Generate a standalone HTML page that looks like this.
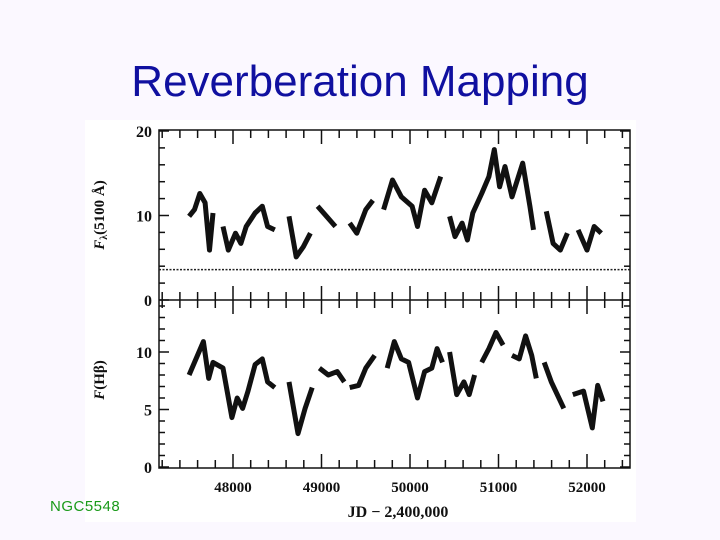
<!DOCTYPE html>
<html><head><meta charset="utf-8"><style>
html,body{margin:0;padding:0;}
body{width:720px;height:540px;background:#fbf8ff;position:relative;overflow:hidden;font-family:"Liberation Sans",sans-serif;}
#title{position:absolute;left:0;width:720px;top:57px;text-align:center;font-size:44px;color:#1010a0;}
#ngc{position:absolute;left:50px;top:498px;font-size:15px;color:#1a9a1a;letter-spacing:0.5px;}
svg{position:absolute;left:0;top:0;}
</style></head><body>
<div id="title">Reverberation Mapping</div>
<svg id="chart" width="720" height="540">
<rect x="85" y="120" width="551" height="402" fill="#ffffff"/>
</svg>
<div id="ngc">NGC5548</div>
<script>
const contJD=[47504,47565,47625,47685,47734,47774,null,47887,47947,48028,48089,48149,48250,48331,48391,48472,null,48633,48714,48794,48875,null,48956,49056,49157,null,49319,49399,49500,49581,null,49702,49802,49903,50024,50085,50165,50246,50347,null,50448,50508,50589,50649,50710,50810,50891,50952,51012,51073,51153,51274,51355,51395,null,51540,51617,51698,51778,null,51899,52000,52081,52161];
const contFlux=[9.9,10.7,12.6,11.5,5.9,10.3,null,8.7,5.9,7.9,6.7,8.7,10.3,11.1,8.7,8.3,null,9.9,5.1,6.3,7.9,null,11.1,9.9,8.7,null,9.1,7.9,10.7,11.8,null,10.7,14.2,12.2,11.1,8.7,13.0,11.5,14.6,null,9.9,7.5,9.1,7.1,10.3,12.6,14.6,17.8,13.4,15.8,12.2,16.2,11.1,8.3,null,10.5,6.7,5.9,7.9,null,8.3,5.9,8.7,7.9];
const hbJD=[47504,47565,47665,47725,47774,47887,47988,48048,48109,48169,48250,48331,48391,48472,null,48633,48734,48815,48895,null,48976,49077,49177,49258,null,49319,49419,49500,49601,null,49742,49823,49903,49984,50085,50165,50246,50306,50367,null,50448,50528,50609,50669,50730,null,50810,50891,50972,51052,null,51153,51234,51306,51375,51427,null,51516,51597,51738,null,51839,51960,52060,52121,52181];
const hbFlux=[8.0,9.1,10.9,7.7,9.1,8.6,4.3,6.0,5.1,6.6,8.9,9.4,7.4,6.9,null,7.4,2.9,5.1,6.9,null,8.6,8.0,8.3,7.4,null,6.9,7.1,8.6,9.7,null,8.6,10.9,9.4,9.1,6.0,8.3,8.6,10.3,9.1,null,10.0,6.3,7.4,6.3,8.0,null,9.1,10.3,11.7,10.6,null,9.7,9.4,11.4,9.7,7.7,null,9.1,7.4,5.1,null,6.3,6.6,3.4,7.1,5.7];
const xTicks=[48000,49000,50000,51000,52000];
const topYTicks=[0,10,20];
const botYTicks=[0,5,10];
const hostLevel=3.6;

const NS="http://www.w3.org/2000/svg";
const svg=document.getElementById('chart');
const L=159,R=630,T=130,MID=300,B=468;
const xs=jd=>233+(jd-48000)*0.0885;
const yTop=v=>300-v*8.45;
const yBot=v=>467-v*11.5;
function mk(tag,attrs){const e=document.createElementNS(NS,tag);for(const k in attrs)e.setAttribute(k,attrs[k]);svg.appendChild(e);return e;}
let f=mk('rect',{x:L,y:T,width:R-L,height:B-T,fill:'none',stroke:'#111','stroke-width':1.5});


let md=mk('line',{x1:L,x2:R,y1:MID,y2:MID,stroke:'#111','stroke-width':1.5});


for(let jd=47200;jd<=52400;jd+=200){
  const x=xs(jd);const major=jd%1000===0;const len=major?14:8;
  [[T,T+len],[MID-len,MID+len],[B-len,B]].forEach(p=>{
    const t=mk('line',{x1:x,x2:x,y1:p[0],y2:p[1],stroke:'#111','stroke-width':1.5});
    
    
  });
}
xTicks.forEach(v=>{
  const t=mk('text',{x:xs(v),y:492,'text-anchor':'middle','font-family':'Liberation Serif, serif','font-weight':'bold','font-size':15,fill:'#111'});
  t.textContent=v;
  
  
});
for(let v=0;v<=20;v+=2){const y=yTop(v);const len=v%10===0?10:6;
  [[L,L+len],[R-len,R]].forEach(p=>{const t=mk('line',{x1:p[0],x2:p[1],y1:y,y2:y,stroke:'#111','stroke-width':1.5});
  
  });}
for(let v=0;v<=14;v+=1){const y=yBot(v);const len=v%5===0?10:6;
  [[L,L+len],[R-len,R]].forEach(p=>{const t=mk('line',{x1:p[0],x2:p[1],y1:y,y2:y,stroke:'#111','stroke-width':1.5});
  
  });}
topYTicks.forEach(v=>{const t=mk('text',{x:152,y:yTop(v)+6,'text-anchor':'end','font-family':'Liberation Serif, serif','font-weight':'bold','font-size':16,fill:'#111'});
  t.textContent=v;
  
  });
botYTicks.forEach(v=>{const t=mk('text',{x:152,y:yBot(v)+6,'text-anchor':'end','font-family':'Liberation Serif, serif','font-weight':'bold','font-size':16,fill:'#111'});
  t.textContent=v;
  
  });
let hl=mk('line',{x1:L,x2:R,y1:yTop(hostLevel),y2:yTop(hostLevel),stroke:'#222','stroke-width':1.5,'stroke-dasharray':'2,1.5'});


function series(jd,fl,yf,name){
  let d='';let pen=false;
  for(let i=0;i<jd.length;i++){
    if(jd[i]===null){pen=false;continue;}
    d+=(pen?'L':'M')+xs(jd[i]).toFixed(1)+' '+yf(fl[i]).toFixed(1)+' ';pen=true;
  }
  const p=mk('path',{d:d,fill:'none',stroke:'#111','stroke-width':5,'stroke-linejoin':'round'});
  
  
}
series(contJD,contFlux,yTop,'continuum-light-curve');
series(hbJD,hbFlux,yBot,'hbeta-light-curve');
let yt1=mk('text',{x:0,y:0,transform:'translate(104,215) rotate(-90)','text-anchor':'middle','font-family':'Liberation Serif, serif','font-weight':'bold','font-size':15,fill:'#111'});
yt1.innerHTML='<tspan font-style="italic">F</tspan><tspan font-size="10" dy="3">λ</tspan><tspan dy="-3">(5100 Å)</tspan>';


let yt2=mk('text',{x:0,y:0,transform:'translate(104,380) rotate(-90)','text-anchor':'middle','font-family':'Liberation Serif, serif','font-weight':'bold','font-size':15,fill:'#111'});
yt2.innerHTML='<tspan font-style="italic">F</tspan>(Hβ)';


let xt=mk('text',{x:398,y:517,'text-anchor':'middle','font-family':'Liberation Serif, serif','font-weight':'bold','font-size':16,fill:'#111'});
xt.textContent='JD − 2,400,000';


</script>
</body></html>
